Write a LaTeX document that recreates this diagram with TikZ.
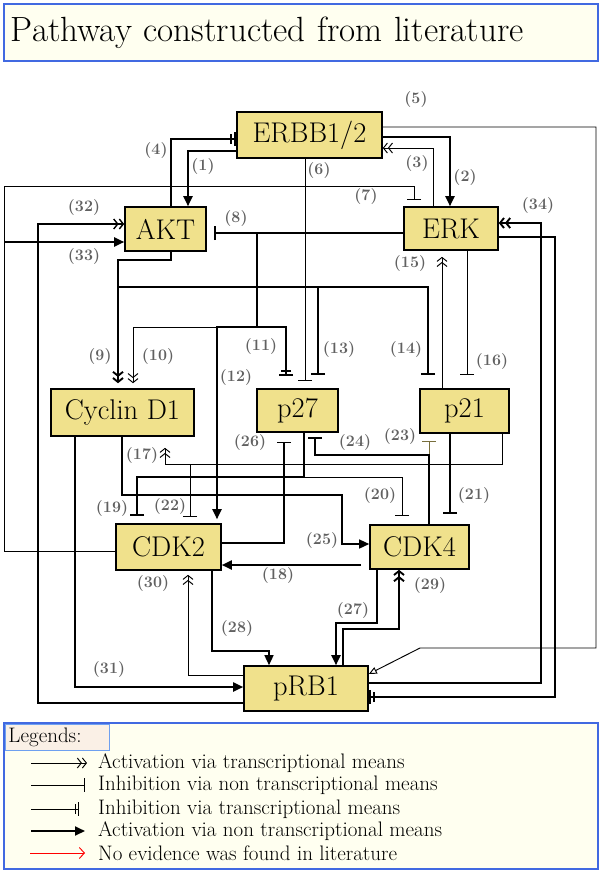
\documentclass[tikz,border=0pt]{standalone}
\usepackage{fontspec}
\usetikzlibrary{arrows.meta}
\definecolor{genefill}{RGB}{240,225,140}
\definecolor{boxfill}{RGB}{255,255,240}
\definecolor{boxline}{RGB}{65,105,225}
\definecolor{tagfill}{RGB}{250,240,230}
\definecolor{tagline}{RGB}{110,160,240}
\definecolor{oliveline}{RGB}{120,110,60}
\tikzset{
  gene/.style={draw=black, line width=1.6pt, fill=genefill, inner sep=0pt, font=\fontsize{28.5}{32}\selectfont},
  lbl/.style={font=\fontsize{16}{18}\selectfont\bfseries, text=black!62, inner sep=0pt},
  legtxt/.style={font=\fontsize{21}{24}\selectfont, inner sep=0pt, anchor=west},
  bold/.style={line width=1.9pt},
  semibold/.style={line width=1.4pt},
  fine/.style={line width=0.95pt},
  actT/.style={-{Straight Barb[length=4pt,width=10pt]Straight Barb[length=4pt,width=10pt]}},
  actN/.style={-{Triangle[length=10pt,width=9pt]}},
  inhN/.style={-{Bar[width=14pt]}},
  inhT/.style={-{Bar[width=10pt,sep=2.5pt]Bar[width=14pt]}}
}
\begin{document}
\begin{tikzpicture}[x=1pt,y=-1pt]
\useasboundingbox (0,0) rectangle (600,871);
\node[draw=boxline, line width=1.8pt, fill=boxfill, anchor=north west, minimum width=594pt, minimum height=57pt, inner xsep=7pt, text width=580pt, align=left, font=\fontsize{35}{40}\selectfont] (title) at (3,3) {Pathway constructed from literature};
\node[gene, minimum width=145pt, minimum height=46pt] (erbb) at (309.5,135) {ERBB1/2};
\node[gene, minimum width=81pt, minimum height=44pt] (akt) at (165.5,229) {AKT};
\node[gene, minimum width=94pt, minimum height=43pt] (erk) at (451,228.5) {ERK};
\node[gene, minimum width=143pt, minimum height=47pt] (cycd) at (122.5,412.5) {Cyclin D1};
\node[gene, minimum width=81pt, minimum height=43pt] (p27) at (297.5,410.5) {p27};
\node[gene, minimum width=89pt, minimum height=44pt] (p21) at (464.5,411) {p21};
\node[gene, minimum width=105pt, minimum height=46pt] (cdk2) at (168.5,547) {CDK2};
\node[gene, minimum width=99pt, minimum height=44pt] (cdk4) at (419.5,547) {CDK4};
\node[gene, minimum width=124pt, minimum height=45pt] (prb) at (306,688.5) {pRB1};
\coordinate (jcdk2) at (4,242);
\coordinate (jerk) at (257,233);
\coordinate (jakt) at (118,287);
\coordinate (jp21) at (190,464);
\coordinate (jp27) at (304,477);
\draw[actN,bold] (erbb.west |- 0,151) -| (188,0 |- akt.north);
\draw[inhT,bold] (171,0 |- akt.north) |- (erbb.west |- 0,139);
\draw[actN,bold] (erbb.east |- 0,137) -| (450,0 |- erk.north);
\draw[actT,fine] (433,0 |- erk.north) |- (erbb.east |- 0,148);
\draw[fine,-{Triangle[open,length=8pt,width=7pt]}] (erbb.east |- 0,127) -| (596,648) -- (420,648) -- (prb.east |- 0,674);
\draw[inhN,fine,shorten >=7pt] (305,0 |- erbb.south) -- (305,0 |- p27.north);
\draw[inhN,fine,shorten >=6pt] (cdk2.west |- 0,551) -| (4,186) -| (414,0 |- erk.north);
\draw[actN,bold] (jcdk2) -- (akt.west |- jcdk2);
\draw[actT,semibold] (prb.west |- 0,703) -| (38,224) -- (akt.west |- 0,224);
\draw[inhN,bold,shorten >=7pt] (erk.west |- jerk) -- (akt.east |- jerk);
\draw[actT,bold,shorten >=5pt] (171,0 |- akt.south) |- (118,260) -- (118,0 |- cycd.north);
\draw[actT,fine,shorten >=5pt] (jerk) |- (133,327) -- (133,0 |- cycd.north);
\draw[inhT,bold,shorten >=12pt] (jerk) |- (286,327) -- (286,0 |- p27.north);
\draw[actN,bold,shorten >=4pt] (jerk) |- (217,327) -- (217,0 |- cdk2.north);
\draw[inhN,bold,shorten >=13pt] (jakt) -| (318,0 |- p27.north);
\draw[inhN,bold,shorten >=13pt] (jakt) -| (428,0 |- p21.north);
\draw[actT,fine,shorten >=6pt] (442,0 |- p21.north) -- (442,0 |- erk.south);
\draw[inhN,fine,shorten >=13pt] (467,0 |- erk.south) -- (467,0 |- p21.north);
\draw[actT,fine,shorten >=11pt] (502,0 |- p21.south) |- (165,464) -- (165,0 |- cycd.south);
\draw[inhN,fine,shorten >=6pt] (jp21) -- (jp21 |- cdk2.north);
\draw[inhN,bold,shorten >=7pt] (304,0 |- p27.south) |- (137,477) -- (137,0 |- cdk2.north);
\draw[inhN,fine,shorten >=8pt] (jp27) -| (402,0 |- cdk4.north);
\draw[inhN,bold,shorten >=10pt] (450,0 |- p21.south) -- (450,0 |- cdk4.north);
\draw[inhN,fine,draw=oliveline,shorten >=7pt] (429,0 |- cdk4.north) -- (429,0 |- p21.south);
\draw[inhN,bold,shorten >=4pt] (429,0 |- cdk4.north) |- (315,455) -- (315,0 |- p27.south);
\draw[inhN,semibold,shorten >=9pt] (cdk2.east |- 0,543) -| (284,0 |- p27.south);
\draw[actN,semibold] (122,0 |- cycd.south) |- (342,495) |- (cdk4.west |- 0,544);
\draw[actN,bold,shorten <=8pt] (cdk4.west |- 0,565) -- (cdk2.east |- 0,565);
\draw[actN,bold] (377,0 |- cdk4.south) |- (336,623) -- (336,0 |- prb.north);
\draw[actT,bold] (343,0 |- prb.north) |- (399,629) -- (399,0 |- cdk4.south);
\draw[actN,semibold] (212,0 |- cdk2.south) |- (269,651) -- (269,0 |- prb.north);
\draw[actT,fine,shorten >=4pt] (prb.west |- 0,675) -| (188,0 |- cdk2.south);
\draw[actN,bold] (75,0 |- cycd.south) |- (prb.west |- 0,687);
\draw[actT,bold] (prb.east |- 0,683) -| (541,223) -- (erk.east |- 0,223);
\draw[inhT,bold] (erk.east |- 0,237) -| (555,697) -- (prb.east |- 0,697);
\node[lbl] (l1) at (203,167) {(1)};
\node[lbl] (l2) at (465,178) {(2)};
\node[lbl] (l3) at (417,164) {(3)};
\node[lbl] (l4) at (156,151) {(4)};
\node[lbl] (l5) at (416,100) {(5)};
\node[lbl] (l6) at (319,171) {(6)};
\node[lbl] (l7) at (366,197) {(7)};
\node[lbl] (l8) at (236,219) {(8)};
\node[lbl] (l9) at (100,357) {(9)};
\node[lbl] (l10) at (158,357) {(10)};
\node[lbl] (l11) at (261,347) {(11)};
\node[lbl] (l12) at (236,378) {(12)};
\node[lbl] (l13) at (339,350) {(13)};
\node[lbl] (l14) at (406,350) {(14)};
\node[lbl] (l15) at (410,264) {(15)};
\node[lbl] (l16) at (492,362) {(16)};
\node[lbl] (l17) at (142,456) {(17)};
\node[lbl] (l18) at (278,575) {(18)};
\node[lbl] (l19) at (112,508) {(19)};
\node[lbl] (l20) at (380,496) {(20)};
\node[lbl] (l21) at (474,496) {(21)};
\node[lbl] (l22) at (170,507) {(22)};
\node[lbl] (l23) at (400,437) {(23)};
\node[lbl] (l24) at (355,443) {(24)};
\node[lbl] (l25) at (322,540) {(25)};
\node[lbl] (l26) at (250,443) {(26)};
\node[lbl] (l27) at (353,610) {(27)};
\node[lbl] (l28) at (237,628) {(28)};
\node[lbl] (l29) at (430,585) {(29)};
\node[lbl] (l30) at (153,583) {(30)};
\node[lbl] (l31) at (109,669) {(31)};
\node[lbl] (l32) at (84,208) {(32)};
\node[lbl] (l33) at (84,257) {(33)};
\node[lbl] (l34) at (538,206) {(34)};
\node[draw=boxline, line width=1.8pt, fill=boxfill, anchor=north west, minimum width=594pt, minimum height=146pt] (legend) at (3,722) {};
\node[draw=tagline, line width=1pt, fill=tagfill, anchor=north west, minimum width=104pt, minimum height=22pt, inner xsep=3pt, text width=98pt, align=left, font=\fontsize{21}{24}\selectfont] (tag) at (5,724) {Legends:};
\coordinate (a1) at (31,763); \coordinate (b1) at (87,763);
\coordinate (a2) at (31,785); \coordinate (b2) at (85,785);
\coordinate (a3) at (31,809); \coordinate (b3) at (79,809);
\coordinate (a4) at (31,831); \coordinate (b4) at (85,831);
\coordinate (a5) at (30,853); \coordinate (b5) at (85,853);
\draw[actT,fine] (a1) -- (b1);
\draw[inhN,fine] (a2) -- (b2);
\draw[inhT,fine] (a3) -- (b3);
\draw[actN,bold] (a4) -- (b4);
\draw[fine,red,-{Straight Barb[length=5pt,width=11pt]}] (a5) -- (b5);
\node[legtxt] (t1) at (98,763) {Activation via transcriptional means};
\node[legtxt] (t2) at (98,785) {Inhibition via non transcriptional means};
\node[legtxt] (t3) at (98,809) {Inhibition via transcriptional means};
\node[legtxt] (t4) at (98,831) {Activation via non transcriptional means};
\node[legtxt] (t5) at (98,853) {No evidence was found in literature};
\end{tikzpicture}
\end{document}
